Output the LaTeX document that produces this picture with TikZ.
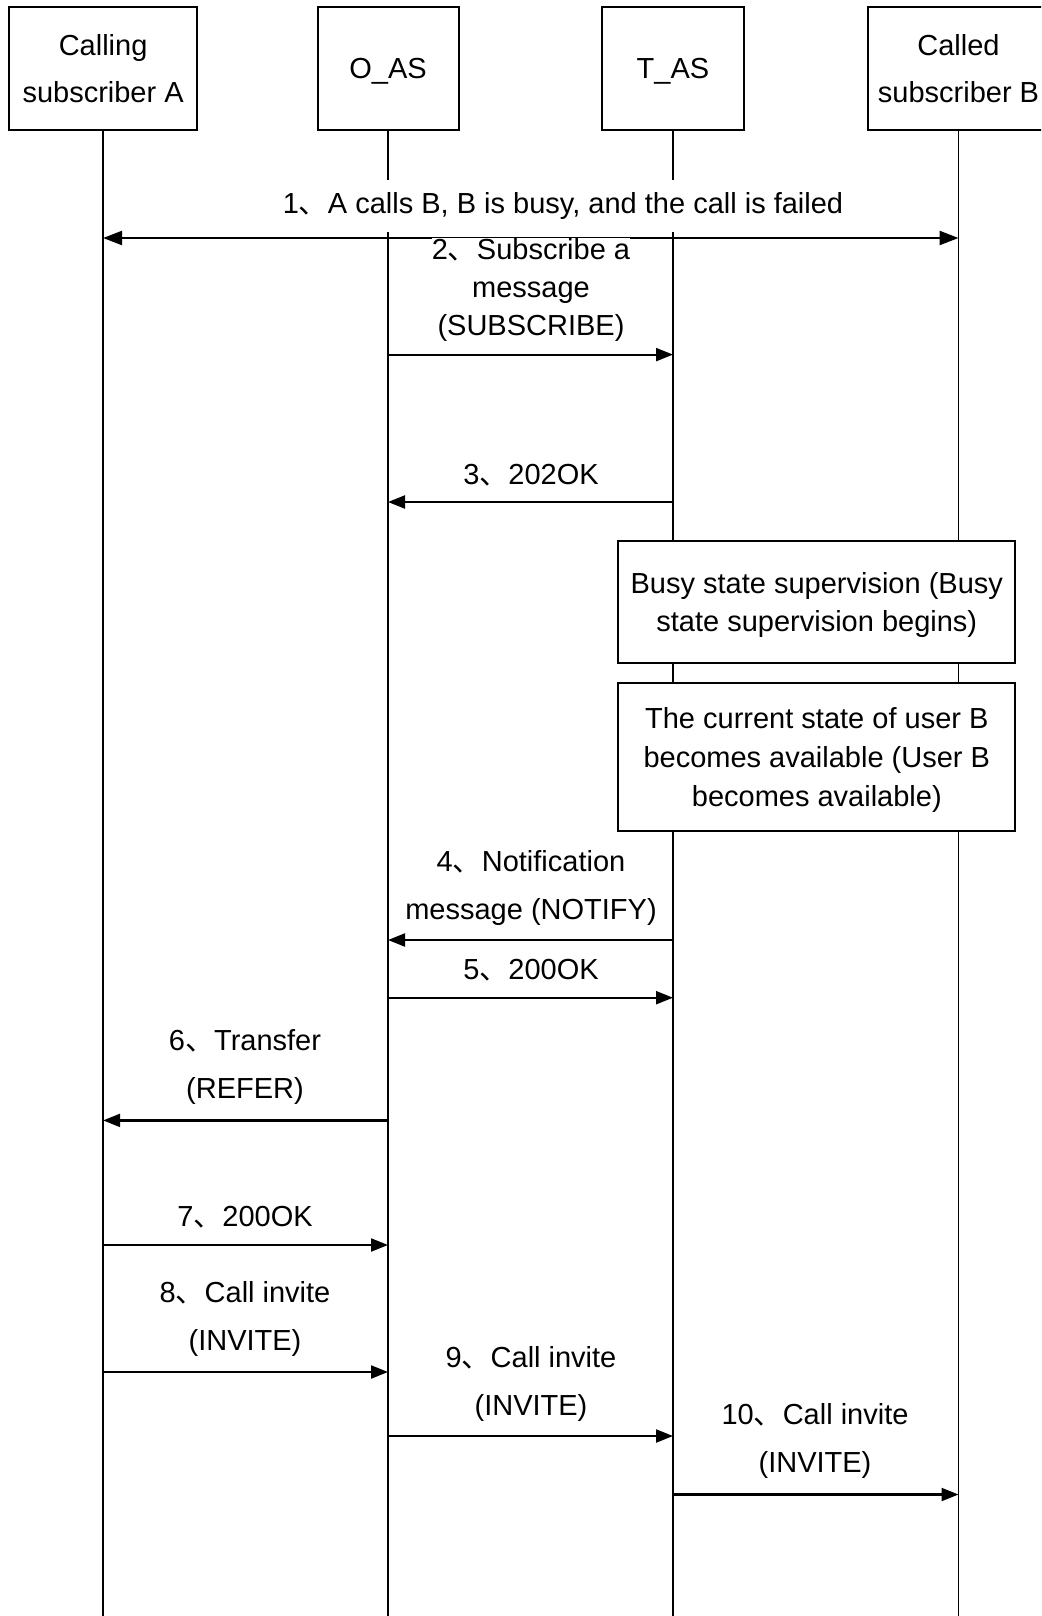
\documentclass[tikz,border=0pt]{standalone}
\usepackage{fontspec}
\setmainfont{Liberation Sans}
\newfontfamily\cjkfont{Noto Sans CJK SC}
\newcommand\dun{{\cjkfont 、}}
\usetikzlibrary{arrows.meta}
\begin{document}
\begin{tikzpicture}[x=0.5pt,y=-0.5pt,
  hdr/.style={draw, line width=1pt, minimum height=61.5pt, align=center, fill=white,
    font=\fontsize{14.5}{23.5}\selectfont},
  life/.style={line width=0.85pt},
  msg/.style={line width=1.1pt, -{Triangle[length=8.5pt,width=6.5pt]}},
  lbl/.style={align=center, inner sep=1pt, font=\fontsize{14.5}{19}\selectfont},
  lblw/.style={align=center, inner sep=1pt, font=\fontsize{14.5}{24}\selectfont},
  statebox/.style={draw, line width=1pt, fill=white, minimum width=198.4pt, align=center}]
\clip (0,0) rectangle (1041,1616);
\fill[white] (0,0) rectangle (1041,1616);
% headers
\node[hdr, minimum width=93.8pt] (A) at (103.1,68.5) {Calling\\subscriber A};
\node[hdr, minimum width=70.5pt] (O) at (388,68.5) {\rule{0pt}{12.8pt}O\_AS};
\node[hdr, minimum width=71pt] (T) at (673,68.5) {\rule{0pt}{12.8pt}T\_AS};
\node[hdr, minimum width=90.5pt] (B) at (958.5,68.5) {Called\\subscriber B};
\coordinate (bot) at (0,1616);
% lifelines
\draw[life] (A.south) -- (A.south |- bot);
\draw[life] (O.south) -- (O.south |- bot);
\draw[life] (T.south) -- (T.south |- bot);
\draw[life] (B.south) -- (B.south |- bot);
% state boxes
\node[statebox, minimum height=60.9pt, font=\fontsize{14.5}{18.75}\selectfont] (S1) at (816.8,602)
  {\rule{0pt}{13.6pt}Busy state supervision (Busy\\state supervision begins)};
\node[statebox, minimum height=73.65pt, font=\fontsize{14.5}{19.5}\selectfont] (S2) at (816.8,757)
  {\rule{0pt}{13.6pt}The current state of user B\\becomes available (User B\\becomes available)};
% message levels
\coordinate (y1) at (0,238);
\coordinate (y2) at (0,354.6);
\coordinate (y3) at (0,502);
\coordinate (y4) at (0,940);
\coordinate (y5) at (0,997.7);
\coordinate (y6) at (0,1120.4);
\coordinate (y7) at (0,1245);
\coordinate (y8) at (0,1372);
\coordinate (y9) at (0,1436);
\coordinate (y10) at (0,1494.5);
% arrows
\draw[line width=1.2pt, {Triangle[length=9.5pt,width=7pt]}-{Triangle[length=9.5pt,width=7pt]}] (A |- y1) -- (B |- y1);
\draw[msg] (O |- y2) -- (T |- y2);
\draw[msg] (T |- y3) -- (O |- y3);
\draw[msg] (T |- y4) -- (O |- y4);
\draw[msg] (O |- y5) -- (T |- y5);
\draw[msg] (O |- y6) -- (A |- y6);
\draw[msg] (A |- y7) -- (O |- y7);
\draw[msg] (A |- y8) -- (O |- y8);
\draw[msg] (O |- y9) -- (T |- y9);
\draw[msg] (T |- y10) -- (B |- y10);
% labels
\node[lbl, fill=white, inner ysep=6pt] (L1) at (563,206) {1\dun A calls B, B is busy, and the call is failed};
\node[lbl, fill=white, inner sep=0pt] (L2) at (531,290) {2\dun Subscribe a\\message\\(SUBSCRIBE)};
\node[lbl] (L3) at (531,475) {3\dun 202OK};
\node[lblw] (L4) at (531,888) {4\dun Notification\\message (NOTIFY)};
\node[lbl] (L5) at (531,970) {5\dun 200OK};
\node[lblw] (L6) at (245,1067) {6\dun Transfer\\(REFER)};
\node[lbl] (L7) at (245,1217) {7\dun 200OK};
\node[lblw] (L8) at (245,1319) {8\dun Call invite\\(INVITE)};
\node[lblw] (L9) at (531,1384) {9\dun Call invite\\(INVITE)};
\node[lblw] (L10) at (815,1441) {10\dun Call invite\\(INVITE)};
\end{tikzpicture}
\end{document}
